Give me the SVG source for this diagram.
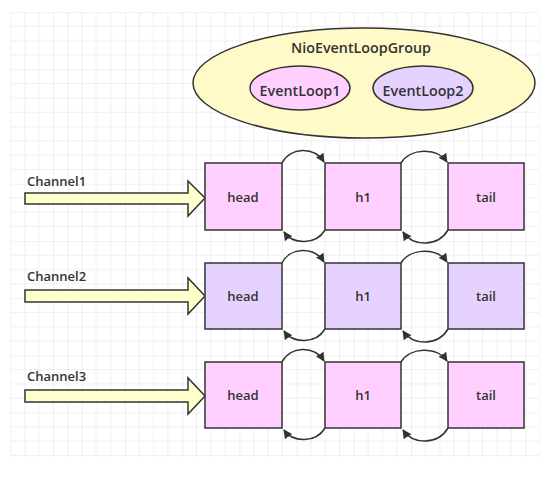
<svg xmlns="http://www.w3.org/2000/svg" width="550" height="477" viewBox="0 0 550 477">
<defs>
<pattern id="grid" patternUnits="userSpaceOnUse" x="10.6" y="12.1" width="57.2" height="57.2">
<path d="M14.3,0V57.2M28.6,0V57.2M42.9,0V57.2M0,14.3H57.2M0,28.6H57.2M0,42.9H57.2" stroke="#efefef" stroke-width="1" fill="none"/>
<path d="M0,0V57.2M0,0H57.2" stroke="#e4e4e4" stroke-width="1.2" fill="none"/>
</pattern>
<marker id="ah" viewBox="0 0 10 10" refX="9" refY="5" markerWidth="9" markerHeight="9" markerUnits="userSpaceOnUse" orient="auto">
<path d="M0,0L10,5L0,10z" fill="#333"/>
</marker>
</defs>
<style>
text{font-family:"Open Sans","Noto Sans","Liberation Sans",sans-serif;font-weight:600;fill:#333;font-size:13px}
.big{font-size:14.3px}
.lbl{text-anchor:middle;dominant-baseline:central}
.box{stroke:#333;stroke-width:1.5}
.pink{fill:#ffd0ff}
.lav{fill:#e6d2ff}
.blk{fill:#ffffcc;stroke:#333;stroke-width:1.5}
.con{fill:none;stroke:#333;stroke-width:1.5;marker-end:url(#ah)}
</style>
<rect x="0" y="0" width="550" height="477" fill="#fff"/>
<rect x="10.6" y="12.1" width="529" height="445" fill="url(#grid)"/>

<g id="group">
<ellipse cx="364" cy="83" rx="171" ry="55" fill="#fffac8" stroke="#333" stroke-width="1.5"/>
<text class="lbl big" x="361" y="47">NioEventLoopGroup</text>
</g>
<g id="eventloop1">
<ellipse cx="300" cy="88" rx="50" ry="22" class="box pink"/>
<text class="lbl big" x="300" y="90">EventLoop1</text>
</g>
<g id="eventloop2">
<ellipse cx="423" cy="88" rx="50" ry="22" class="box lav"/>
<text class="lbl big" x="423" y="90">EventLoop2</text>
</g>

<g id="channel1">
<text x="27" y="186">Channel1</text>
<path class="blk" d="M25,193H188V181L205,198L188,216V204H25Z"/>
</g>
<g id="channel2">
<text x="27" y="281">Channel2</text>
<path class="blk" d="M25,290H188V278L205,296L188,314V302H25Z"/>
</g>
<g id="channel3">
<text x="27" y="381">Channel3</text>
<path class="blk" d="M25,390H188V378L205,396L188,414V402H25Z"/>
</g>

<g id="head1"><rect x="205" y="163" width="77" height="67" class="box pink"/><text class="lbl" x="243" y="197">head</text></g>
<g id="h1_1"><rect x="325" y="163" width="76" height="67" class="box pink"/><text class="lbl" x="363" y="197">h1</text></g>
<g id="tail1"><rect x="448" y="163" width="76" height="67" class="box pink"/><text class="lbl" x="486" y="197">tail</text></g>

<g id="head2"><rect x="205" y="263" width="77" height="66" class="box lav"/><text class="lbl" x="243" y="296">head</text></g>
<g id="h1_2"><rect x="325" y="263" width="76" height="66" class="box lav"/><text class="lbl" x="363" y="296">h1</text></g>
<g id="tail2"><rect x="448" y="263" width="76" height="66" class="box lav"/><text class="lbl" x="486" y="296">tail</text></g>

<g id="head3"><rect x="205" y="362" width="77" height="66" class="box pink"/><text class="lbl" x="243" y="395">head</text></g>
<g id="h1_3"><rect x="325" y="362" width="76" height="66" class="box pink"/><text class="lbl" x="363" y="395">h1</text></g>
<g id="tail3"><rect x="448" y="362" width="76" height="66" class="box pink"/><text class="lbl" x="486" y="395">tail</text></g>

<g id="connectors">
<path class="con" d="M282,163C290,147 314,146 324,162"/>
<path class="con" d="M325,230C316,245 293,245 284,232"/>
<path class="con" d="M401,163C410,148 437,147 447,162"/>
<path class="con" d="M448,230C438,247 413,247 403,232"/>

<path class="con" d="M282,263C290,247 314,246 324,262"/>
<path class="con" d="M325,329C316,344 293,344 284,331"/>
<path class="con" d="M401,263C410,248 437,247 447,262"/>
<path class="con" d="M448,329C438,346 413,346 403,331"/>

<path class="con" d="M282,362C290,346 314,345 324,361"/>
<path class="con" d="M325,428C316,443 293,443 284,430"/>
<path class="con" d="M401,362C410,347 437,346 447,361"/>
<path class="con" d="M448,428C438,445 413,445 403,430"/>
</g>
</svg>
